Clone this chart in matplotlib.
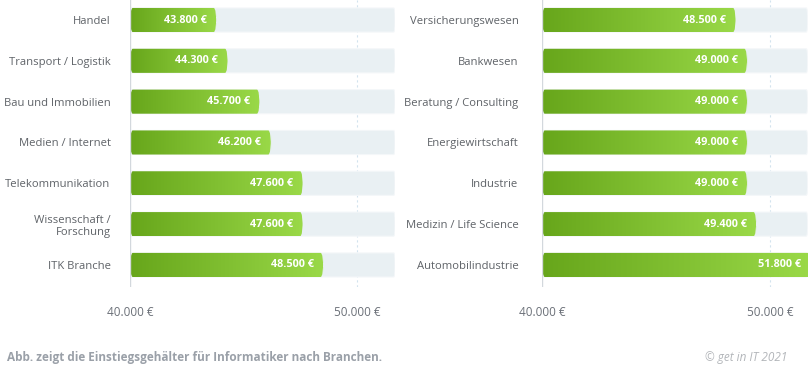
import numpy as np
import matplotlib.pyplot as plt
from matplotlib.patches import FancyBboxPatch
from matplotlib.colors import LinearSegmentedColormap

plt.rcParams['font.family'] = ['Open Sans', 'DejaVu Sans']

left_labels = ["Handel", "Transport / Logistik", "Bau und Immobilien", "Medien / Internet",
               "Telekommunikation", "Wissenschaft /\nForschung", "ITK Branche"]
left_values = [43800, 44300, 45700, 46200, 47600, 47600, 48500]
left_texts = ["43.800 €", "44.300 €", "45.700 €", "46.200 €", "47.600 €", "47.600 €", "48.500 €"]

right_labels = ["Versicherungswesen", "Bankwesen", "Beratung / Consulting", "Energiewirtschaft",
                "Industrie", "Medizin / Life Science", "Automobilindustrie"]
right_values = [48500, 49000, 49000, 49000, 49000, 49400, 51800]
right_texts = ["48.500 €", "49.000 €", "49.000 €", "49.000 €", "49.000 €", "49.400 €", "51.800 €"]

tick_values = [40000, 50000]
tick_labels = ["40.000 €", "50.000 €"]

x0 = 40000
track_end = 51650
green = LinearSegmentedColormap.from_list("g", ["#67a61b", "#9ad948"])
grad = np.linspace(0, 1, 256).reshape(1, -1)

W, H = 808, 369
fig = plt.figure(figsize=(W / 100, H / 100), dpi=100)


def panel(left_px, width_px, xmax, labels, values, texts, pad):
    ax = fig.add_axes([left_px / W, (H - 287) / H, width_px / W, 287 / H])
    ax.set_xlim(x0, xmax)
    ax.set_ylim(6.54, -0.49)
    ax.axvline(50000, color="#d2e3ee", lw=0.8, ls=(0, (2, 2.5)), zorder=0)
    for i, v in enumerate(values):
        track = FancyBboxPatch((x0, i - 0.295), track_end - x0, 0.59,
                               boxstyle="round,pad=0,rounding_size=60",
                               mutation_aspect=0.004,
                               fc="#e9f0f3", ec="#f4f7f9", lw=0.8, zorder=1)
        ax.add_patch(track)
        bar = FancyBboxPatch((x0, i - 0.295), v - x0, 0.59,
                             boxstyle="round,pad=0,rounding_size=120",
                             mutation_aspect=0.004,
                             fc="none", ec="none", zorder=2)
        ax.add_patch(bar)
        im = ax.imshow(grad, cmap=green, aspect="auto",
                       extent=(x0, v, i + 0.295, i - 0.295), zorder=2)
        im.set_clip_path(bar)
        ax.text(v - 420, i, texts[i], color="white", fontsize=7.8, fontweight="bold",
                ha="right", va="center", zorder=3)
    ax.axvline(x0, color="#d3d8dd", lw=1, zorder=4)
    ax.set_ylim(6.54, -0.49)
    ax.set_xlim(x0, xmax)
    ax.set_yticks(range(len(labels)))
    ax.set_yticklabels(labels, fontsize=8.1, color="#5f6368", ha="right", multialignment="right")
    ax.set_xticks(tick_values)
    ax.set_xticklabels(tick_labels, fontsize=8.5, color="#6b7078")
    ax.tick_params(axis="both", length=0)
    ax.tick_params(axis="y", pad=pad)
    ax.tick_params(axis="x", pad=14)
    for s in ax.spines.values():
        s.set_visible(False)
    ax.set_facecolor("none")
    return ax


panel(130, 265, track_end, left_labels, left_values, left_texts, 14)
panel(542, 266, x0 + 266 / 22.8 * 1000, right_labels, right_values, right_texts, 17)

fig.text(7 / W, 1 - 358 / H, "Abb. zeigt die Einstiegsgehälter für Informatiker nach Branchen.",
         fontsize=8.5, fontweight="bold", color="#9aa0a8", ha="left", va="center")
fig.text(787 / W, 1 - 358 / H, "© get in IT 2021", fontsize=8.5, style="italic",
         color="#b3b6ba", ha="right", va="center")

fig.savefig("out.png", dpi=100)
